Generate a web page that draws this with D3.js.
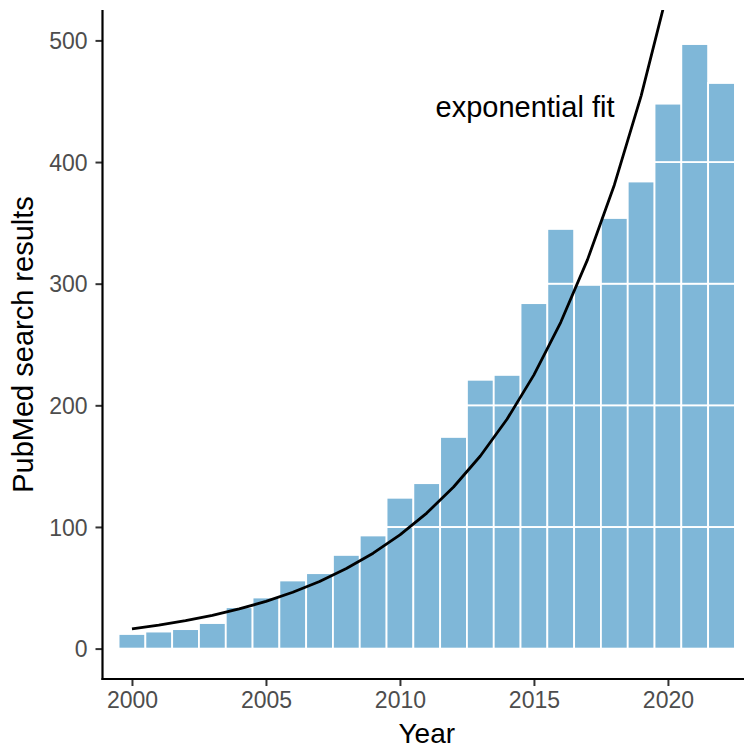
<!DOCTYPE html>
<html>
<head>
<meta charset="utf-8">
<script src="https://cdn.jsdelivr.net/npm/d3@7"></script>
<style>
  body { margin: 0; background: #fff; }
  svg { display: block; }
  text { font-family: "Liberation Sans", Arial, Helvetica, sans-serif; }
</style>
</head>
<body>
<script>
// Yearly PubMed hit counts
const years  = [2000, 2001, 2002, 2003, 2004, 2005, 2006, 2007, 2008, 2009, 2010, 2011,
                2012, 2013, 2014, 2015, 2016, 2017, 2018, 2019, 2020, 2021, 2022];
const counts = [12, 14, 16, 21, 34, 42, 56, 62, 77, 93, 124, 136,
                174, 221, 225, 284, 345, 299, 354, 384, 448, 497, 465];
const xTicks = [2000, 2005, 2010, 2015, 2020];
const yTicks = [0, 100, 200, 300, 400, 500];
const segmentSize = 100;   // bars are stacked in blocks of 100 results

const W = 744, H = 749;
const panel = { left: 102.5, right: 751, top: 10, bottom: 679 };

const svg = d3.select("body").append("svg").attr("width", W).attr("height", H);

const x = d3.scaleLinear().domain([1998.9, 2023.1]).range([panel.left, panel.right]);
const y = d3.scaleLinear().domain([-25, 525]).range([panel.bottom, panel.top]);

svg.append("clipPath").attr("id", "panel-clip")
  .append("rect")
  .attr("x", panel.left).attr("y", panel.top)
  .attr("width", panel.right - panel.left).attr("height", panel.bottom - panel.top);

// Stacked blocks for each year's bar
const blocks = [];
years.forEach((yr, i) => {
  const v = counts[i];
  for (let lo = 0; lo < v; lo += segmentSize) {
    blocks.push({ year: yr, lo: lo, hi: Math.min(v, lo + segmentSize) });
  }
});

const plot = svg.append("g").attr("clip-path", "url(#panel-clip)");

plot.selectAll("rect.bar")
  .data(blocks)
  .join("rect")
  .attr("class", "bar")
  .attr("x", d => x(d.year - 0.5))
  .attr("width", d => x(d.year + 0.5) - x(d.year - 0.5))
  .attr("y", d => y(d.hi))
  .attr("height", d => y(d.lo) - y(d.hi))
  .attr("fill", "#7fb7d8")
  .attr("stroke", "#ffffff")
  .attr("stroke-width", 1.8);

// Exponential fit: least squares on log(count) against year
const t = years.map(yr => yr - years[0]);
const lc = counts.map(Math.log);
const tMean = d3.mean(t), lMean = d3.mean(lc);
const slope = d3.sum(t, (ti, i) => (ti - tMean) * (lc[i] - lMean)) /
              d3.sum(t, ti => (ti - tMean) ** 2);
const intercept = lMean - slope * tMean;
const fitted = years.map((yr, i) => ({ year: yr, value: Math.exp(intercept + slope * t[i]) }));

plot.append("path")
  .datum(fitted)
  .attr("fill", "none")
  .attr("stroke", "#000")
  .attr("stroke-width", 2.8)
  .attr("stroke-linejoin", "round")
  .attr("d", d3.line().x(d => x(d.year)).y(d => y(d.value)));

svg.append("text")
  .attr("x", 525).attr("y", 117)
  .attr("text-anchor", "middle")
  .attr("font-size", 29)
  .attr("fill", "#000")
  .text("exponential fit");

// Axes
const axisColor = "#000", tickColor = "#333333", labelColor = "#4d4d4d";

const yAxis = svg.append("g")
  .attr("transform", `translate(${panel.left},0)`)
  .call(d3.axisLeft(y).tickValues(yTicks).tickSize(7).tickPadding(8).tickFormat(d3.format("d")));
yAxis.select(".domain").remove();
yAxis.selectAll(".tick line").attr("stroke", tickColor).attr("stroke-width", 2);
yAxis.selectAll(".tick text")
  .attr("fill", labelColor).attr("font-size", 23)
  .attr("font-family", '"Liberation Sans", Arial, Helvetica, sans-serif')
  .attr("dy", "0.36em");

const xAxis = svg.append("g")
  .attr("transform", `translate(0,${panel.bottom})`)
  .call(d3.axisBottom(x).tickValues(xTicks).tickSize(7).tickPadding(6).tickFormat(d3.format("d")));
xAxis.select(".domain").remove();
xAxis.selectAll(".tick line").attr("stroke", tickColor).attr("stroke-width", 2);
xAxis.selectAll(".tick text")
  .attr("fill", labelColor).attr("font-size", 23)
  .attr("font-family", '"Liberation Sans", Arial, Helvetica, sans-serif')
  .attr("dy", "0.71em");

svg.append("line")
  .attr("x1", panel.left).attr("x2", panel.left)
  .attr("y1", panel.top).attr("y2", panel.bottom + 1)
  .attr("stroke", axisColor).attr("stroke-width", 2.2);
svg.append("line")
  .attr("x1", panel.left - 1).attr("x2", panel.right)
  .attr("y1", panel.bottom).attr("y2", panel.bottom)
  .attr("stroke", axisColor).attr("stroke-width", 2.2);

// Axis titles
svg.append("text")
  .attr("x", (panel.left + panel.right) / 2).attr("y", 743)
  .attr("text-anchor", "middle")
  .attr("font-size", 28)
  .attr("fill", "#000")
  .text("Year");

svg.append("text")
  .attr("transform", `translate(33,${(panel.top + panel.bottom) / 2}) rotate(-90)`)
  .attr("text-anchor", "middle")
  .attr("font-size", 29)
  .attr("fill", "#000")
  .text("PubMed search results");
</script>
</body>
</html>
